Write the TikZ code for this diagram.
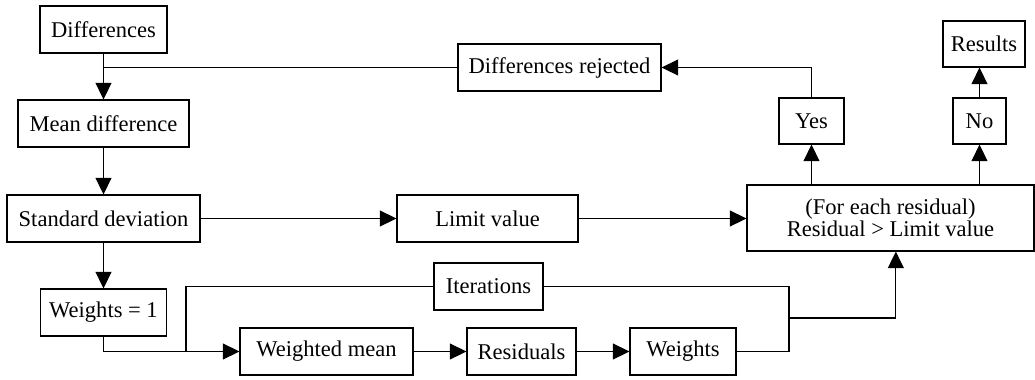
\documentclass[tikz,border=0pt]{standalone}
\usepackage{fontspec}
\setmainfont{Liberation Serif}
\usetikzlibrary{arrows.meta}

\begin{document}
\begin{tikzpicture}[x=0.75pt, y=-0.75pt,
    every node/.style={font=\fontsize{16.9}{15}\selectfont},
    box/.style={draw, line width=0.8pt, inner sep=0pt, minimum width=#1*0.75pt, minimum height=35.25pt},
    flow/.style={-{Triangle[length=12.5pt, width=12pt]}, line width=0.8pt},
    link/.style={line width=0.8pt}]
    \useasboundingbox (0,0) rectangle (1035,379);

    % Left column
    \node[box=127] (diff) at (103.5,29.5) {Differences};
    \node[box=171] (meandiff) at (103.5,123.5) {Mean difference};
    \node[box=193] (stddev) at (103.5,218.5) {Standard deviation};
    \node[box=126] (wone) at (103.5,312.5) {Weights = 1};
    \draw[flow] (diff) -- (meandiff);
    \draw[flow] (meandiff) -- (stddev);
    \draw[flow] (stddev) -- (wone);

    % Limit and test
    \node[box=181] (limit) at (487.5,218.5) {Limit value};
    \node[box=287, minimum height=49.5pt, align=center] (test) at (890.5,218)
        {(For each residual)\\Residual > Limit value};
    \draw[flow] (stddev) -- (limit);
    \draw[flow] (limit.east) -- (limit.east -| test.west);

    % Yes / No branches
    \node[box=65, minimum height=34.5pt] (yes) at (811.5,121) {Yes};
    \node[box=53, minimum height=34.5pt] (no) at (979.5,121) {No};
    \node[box=82, minimum height=34.5pt] (results) at (984,44) {Results};
    \node[box=203] (diffrej) at (559.5,67.5) {Differences rejected};
    \draw[flow] (test.north -| yes.south) -- (yes);
    \draw[flow] (test.north -| no.south) -- (no);
    \draw[flow] (no) -- (no.north |- results.south);
    \draw[flow] (yes.north) |- (diffrej.east);
    \coordinate (split) at (diff.south |- diffrej.west);
    \draw[link] (diffrej.west) -- (split);

    % Iteration loop
    \node[box=173] (wmean) at (326.5,351.5) {Weighted mean};
    \node[box=109] (resid) at (521.5,351.5) {Residuals};
    \node[box=106] (wts) at (683,351.5) {Weights};
    \node[box=109] (iter) at (488.5,286.5) {Iterations};
    \draw[flow] (wone.south) |- (wmean.west);
    \draw[flow] (wmean) -- (resid);
    \draw[flow] (resid) -- (wts);
    \coordinate (loopin) at (186,351.5);
    \coordinate (loopout) at (789,351.5);
    \coordinate (merge) at (789,318);
    \draw[link] (loopin) |- (iter.west);
    \draw[link] (wts.east) -- (loopout) |- (iter.east);
    \draw[flow] (merge) -| ([xshift=4pt]test.south);
\end{tikzpicture}
\end{document}
